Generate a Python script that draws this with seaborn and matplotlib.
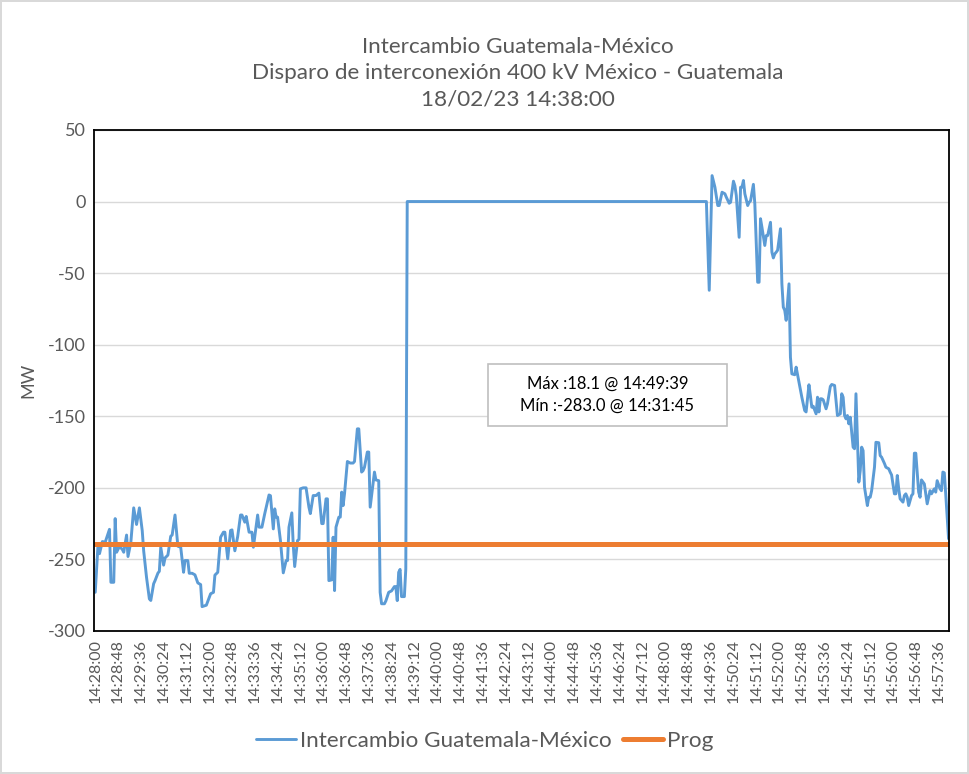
import numpy as np
import pandas as pd
import matplotlib.pyplot as plt
from matplotlib.patches import Rectangle
import seaborn as sns

# seconds after 14:28:00 (3 s samples), before the trip
t_before = [0, 6, 9, 15, 21, 30, 33, 39, 42, 45,
            51, 57, 60, 66, 69, 75, 81, 87, 93, 99,
            102, 108, 114, 117, 123, 126, 132, 135, 138, 144,
            147, 153, 159, 162, 168, 174, 180, 186, 189, 195,
            198, 204, 210, 216, 222, 225, 234, 243, 249, 252,
            258, 264, 270, 273, 279, 285, 288, 294, 300, 306,
            309, 315, 318, 324, 330, 333, 342, 345, 351, 357,
            366, 369, 375, 378, 381, 384, 390, 396, 402, 405,
            408, 414, 417, 420, 426, 429, 432, 438, 444, 450,
            453, 459, 465, 471, 477, 480, 486, 489, 492, 498,
            501, 504, 507, 513, 516, 519, 522, 525, 531, 537,
            543, 546, 552, 555, 561, 564, 567, 573, 576, 579,
            588, 591, 597, 600, 603, 609, 612, 618, 624, 630,
            633, 636, 639, 642, 645, 651, 654, 657]
mw_before = [-273, -239, -246, -237.5, -238, -229, -266, -266, -221.5, -245,
             -241, -243, -245, -233, -248, -238, -214, -225.6, -214, -230,
             -244, -262.5, -277.6, -278.7, -267, -264.8, -259.6, -258.3, -241.5, -254,
             -249, -247, -233.8, -233, -219, -240.8, -241.5, -259, -250.8, -250.8,
             -259.7, -259.7, -260.8, -266.4, -267.6, -283.0, -282, -274, -273, -261,
             -259, -234.5, -231, -231, -249.6, -229.8, -229.4, -244, -234, -219,
             -219, -224, -220, -231, -231, -241.5, -219, -227.5, -227.5, -218,
             -205, -205.5, -228.7, -214.7, -220.5, -220.5, -236.8, -259.4, -250.8, -250.8,
             -227.5, -217.5, -240, -255, -236.8, -236, -200.7, -200, -200, -213.5,
             -218, -205.4, -205.4, -203.7, -225, -225, -207.7, -207.7, -264.8, -264.3,
             -234.5, -271.8, -227.5, -220.5, -220.5, -203, -212.4, -204, -181.6, -182.7,
             -182.7, -181.6, -158.8, -158.8, -189, -188, -185.6, -175, -175, -213.5,
             -189, -194.5, -195, -273, -281, -281, -279, -273, -272, -269,
             -269, -278.8, -259, -257, -276, -276, -256.6, 0]

# after reconnection
t_after = [1287, 1293, 1299, 1305, 1311, 1314, 1320, 1326, 1329, 1335,
           1338, 1344, 1347, 1350, 1356, 1359, 1362, 1365, 1368, 1374,
           1377, 1380, 1386, 1389, 1395, 1398, 1401, 1404, 1410, 1413,
           1416, 1422, 1425, 1428, 1431, 1434, 1437, 1443, 1446, 1449,
           1452, 1455, 1461, 1464, 1467, 1473, 1476, 1482, 1488, 1494,
           1497, 1503, 1506, 1509, 1512, 1518, 1521, 1524, 1527, 1530,
           1533, 1539, 1542, 1548, 1551, 1557, 1560, 1563, 1569, 1572,
           1575, 1578, 1581, 1584, 1587, 1590, 1596, 1599, 1602, 1605,
           1608, 1611, 1614, 1617, 1620, 1626, 1629, 1632, 1635, 1641,
           1644, 1650, 1653, 1656, 1662, 1665, 1671, 1674, 1677, 1683,
           1686, 1689, 1692, 1695, 1701, 1704, 1707, 1710, 1713, 1719,
           1722, 1725, 1728, 1734, 1737, 1740, 1746, 1752, 1758, 1761,
           1767, 1770, 1773, 1779, 1782, 1785, 1788, 1791, 1797]
mw_after = [0, -62, 18.1, 10, -2.8, -2.8, 6.5, 5.4, 3, -1.2,
            -0.5, 14.2, 11, 4.2, -25, 10, 10, 14.7, 5.4, -2.8,
            -0.5, 0.5, 12, -1.6, -56.4, -56.4, -12, -18, -30.7, -23.8,
            -23.8, -14.5, -35.4, -39.4, -36.6, -35.4, -34, -19, -57.5, -73.8,
            -76, -83, -57.5, -108.8, -120.4, -121, -115.7, -126, -136.7, -146,
            -147, -128, -135.5, -143.7, -143, -148.3, -136.7, -147, -137.8, -137.8,
            -138.5, -144.8, -141.3, -129.2, -127.8, -128.5, -139, -149.5, -148.3, -134.3,
            -136.7, -149.5, -151.8, -149.5, -155.3, -150.7, -171.6, -172.7, -134.3, -164.6,
            -196, -188, -171.6, -174, -199.6, -212.4, -206.6, -206.6, -202, -185.6,
            -168.2, -168.5, -177.5, -178.6, -183, -185.6, -186.7, -189, -191, -204.2,
            -204.2, -191.4, -200.7, -207.7, -210, -205.4, -204.2, -206.6, -212.4, -205.4,
            -204.2, -175.8, -175.8, -203, -206.6, -194.5, -197.3, -211.2, -202, -204.2,
            -200.7, -203, -195, -200.7, -202, -189, -189.5, -204.2, -235.6]

prog_mw = -239
start = pd.Timestamp("2023-02-18 14:28:00")
tick_step = 48
y_ticks = [50, 0, -50, -100, -150, -200, -250, -300]

title = "Intercambio Guatemala-México\nDisparo de interconexión 400 kV México - Guatemala\n18/02/23 14:38:00"

assert len(t_before) == len(mw_before) and len(t_after) == len(mw_after)
df = pd.DataFrame({"t": t_before + t_after, "mw": mw_before + mw_after})
df["prog"] = prog_mw

blue = "#5B9BD5"
orange = "#ED7D31"
grey = "#595959"

sns.set_style("white")
plt.rcParams["font.family"] = ["Lato", "DejaVu Sans"]

fig = plt.figure(figsize=(9.69, 7.74), dpi=100)
fig.patch.set_edgecolor("#D9D9D9")
fig.patch.set_linewidth(1.5)
ax = fig.add_axes([0.0973, 0.1848, 0.8821, 0.6473])

sns.lineplot(data=df, x="t", y="mw", ax=ax, color=blue, lw=2.1, sort=False,
             estimator=None, label="Intercambio Guatemala-México")
sns.lineplot(data=df, x="t", y="prog", ax=ax, color=orange, lw=3.6, sort=False,
             estimator=None, label="Prog")

ax.set_xlim(-2, 1798)
ax.set_ylim(-300, 50)
xt = np.arange(0, 1797, tick_step)
ax.set_xticks(xt)
ax.set_xticklabels([(start + pd.Timedelta(seconds=int(s))).strftime("%H:%M:%S") for s in xt],
                   rotation=90, fontsize=11.5, color=grey)
ax.set_yticks(y_ticks)
ax.set_yticklabels([str(v) for v in y_ticks], fontsize=13, color=grey)
ax.tick_params(length=0, pad=6)
ax.grid(axis="y", color="#D9D9D9", lw=1)
ax.set_axisbelow(True)
for sp in ax.spines.values():
    sp.set_color("black")
    sp.set_linewidth(1.3)
ax.set_xlabel("")
ax.set_ylabel("MW", fontsize=13, color=grey, labelpad=8)

fig.text(0.534, 0.9057, title, ha="center", va="center", fontsize=16.2,
         color=grey, linespacing=1.38)

# max / min box
imax = df["mw"].idxmax()
imin = df["mw"].idxmin()
tmax = (start + pd.Timedelta(seconds=int(df.loc[imax, "t"]))).strftime("%H:%M:%S")
tmin = (start + pd.Timedelta(seconds=int(df.loc[imin, "t"]))).strftime("%H:%M:%S")
box_txt = f"Máx :{df.loc[imax, 'mw']:.1f} @ {tmax}\nMín :{df.loc[imin, 'mw']:.1f} @ {tmin}"
fig.patches.append(Rectangle((0.5036, 0.4496), 0.2466, 0.0801, transform=fig.transFigure,
                             facecolor="white", edgecolor="#BFBFBF", lw=1.2, zorder=5))
fig.text(0.6269, 0.4897, box_txt, ha="center", va="center", fontsize=12,
         color="black", linespacing=1.45, zorder=6)

ax.get_legend().remove()
h, l = ax.get_legend_handles_labels()
fig.legend(h, l, loc="center", bbox_to_anchor=(0.5, 0.043), ncol=2, frameon=False,
           fontsize=16.2, handlelength=1.8, handletextpad=0.15, columnspacing=0.5,
           labelcolor=grey)

fig.savefig("out.png", dpi=100)
